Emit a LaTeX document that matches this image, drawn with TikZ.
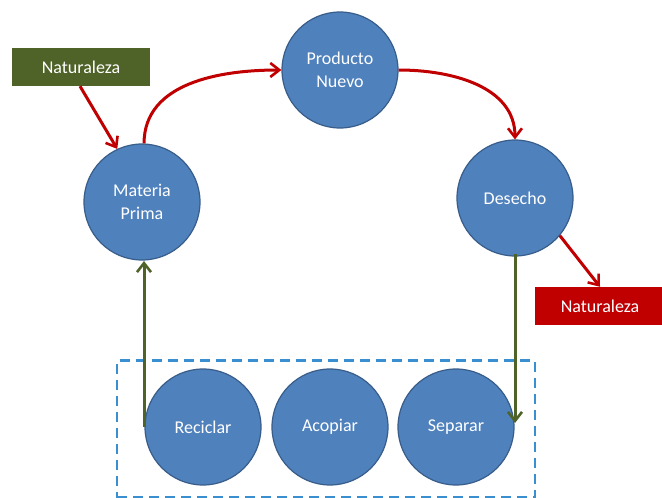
\documentclass[tikz,border=0pt]{standalone}
\usepackage{fontspec}
\setmainfont{Carlito}
\usetikzlibrary{arrows.meta}
\definecolor{cfill}{HTML}{4F81BD}
\definecolor{cline}{HTML}{385D8A}
\definecolor{dgreen}{HTML}{4F6228}
\definecolor{dred}{HTML}{C00000}
\definecolor{dash}{HTML}{3A8FD0}
\tikzset{
  circ/.style={circle, fill=cfill, draw=cline, line width=1.2pt, minimum size=116pt, inner sep=0pt, text=white, font=\fontsize{18}{23}\selectfont, align=center},
  boxn/.style={text=white, font=\fontsize{18}{22}\selectfont, inner sep=0pt, anchor=center},
  redarr/.style={draw=dred, line width=3pt, -{Straight Barb[length=9pt,width=14pt,line width=2.6pt]}},
  greenarr/.style={draw=dgreen, line width=3pt, -{Straight Barb[length=9pt,width=14pt,line width=2.6pt]}},
}
\begin{document}
\begin{tikzpicture}[x=1pt,y=-1pt]
\useasboundingbox (0,0) rectangle (662,498);
% dashed box
\node[draw=dash, dash pattern=on 10pt off 6pt, line width=2.4pt, minimum width=418pt, minimum height=137pt, inner sep=0pt] (grp) at (326,429) {};
% boxes
\node[boxn, fill=dgreen, minimum width=138pt, minimum height=38pt] (natA) at (81,67) {Naturaleza};
\node[boxn, fill=dred, minimum width=130pt, minimum height=38pt] (natB) at (600,306) {Naturaleza};
% circles
\node[circ] (mat) at (142,202) {Materia\\Prima};
\node[circ] (prod) at (340,70) {Producto\\Nuevo};
\node[circ] (des) at (515,198) {Desecho};
\node[circ] (rec) at (203,427) {Reciclar};
\node[circ] (aco) at (330,427) {Acopiar};
\node[circ] (sep) at (456,427) {Separar};
% red arrows
\draw[redarr] (natA.south -| 80,0) -- (mat.115);
\draw[redarr] (mat.88) to[out=90,in=180] (prod.west);
\draw[redarr] (prod.east) to[out=0,in=90] (des.north);
\draw[redarr] (des.-40) -- (natB.north);
% green arrows
\coordinate (recL) at (144,427);
\coordinate (matB) at (144,261);
\draw[greenarr] (recL) -- (matB);
\coordinate (desB) at (515,254);
\coordinate (sepR) at (515,423);
\draw[greenarr] (desB) -- (sepR);
\end{tikzpicture}
\end{document}
